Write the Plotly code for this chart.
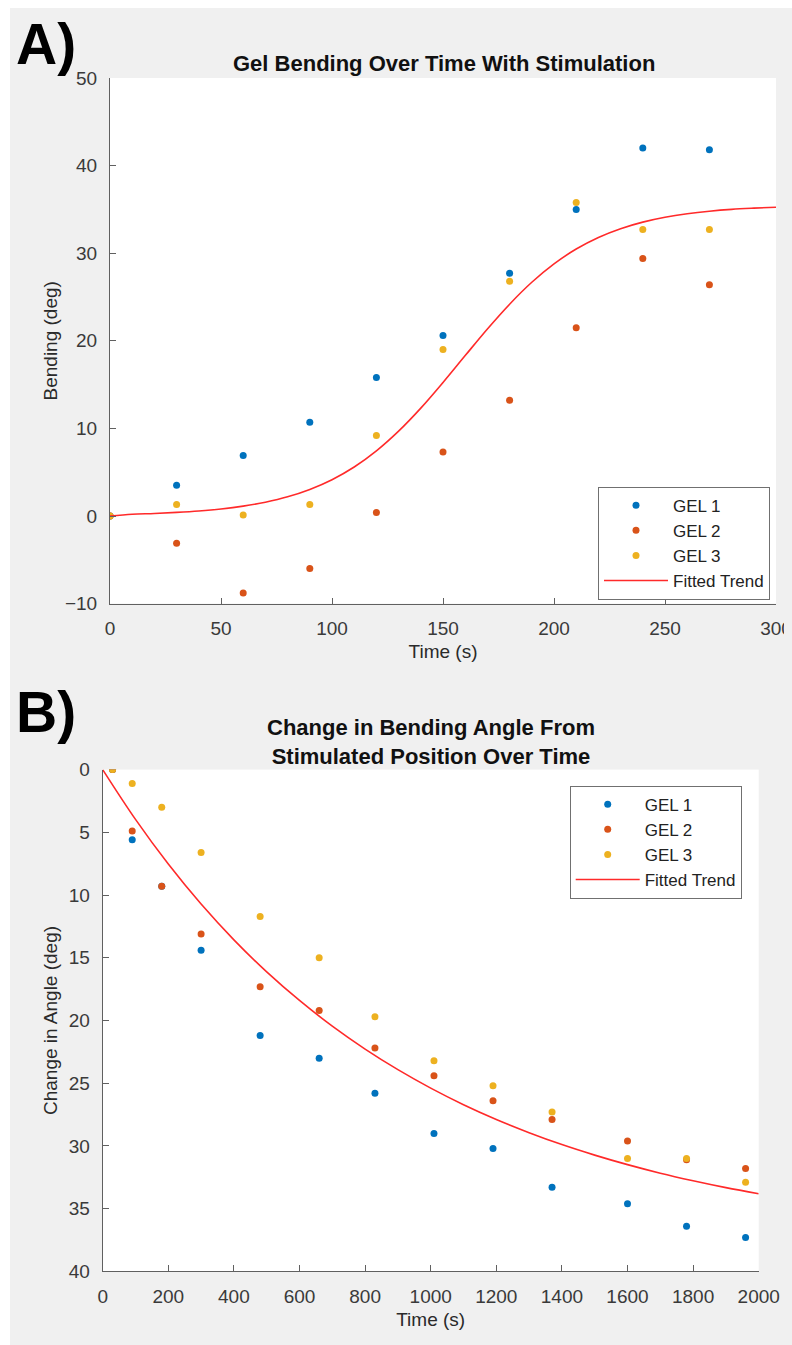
import plotly.graph_objects as go

# ---------------- Data: panel A ----------------
time_a = [0, 30, 60, 90, 120, 150, 180, 210, 240, 270]
gel1_a = [0, 3.5, 6.9, 10.7, 15.8, 20.6, 27.7, 35.0, 42.0, 41.8]
gel2_a = [0, -3.1, -8.8, -6.0, 0.4, 7.3, 13.2, 21.5, 29.4, 26.4]
gel3_a = [0, 1.3, 0.1, 1.3, 9.2, 19.0, 26.8, 35.8, 32.7, 32.7]
fit_time_a = [0, 10, 20, 30, 40, 50, 60, 70, 80, 90, 100, 110, 120, 130, 140, 150,
              160, 170, 180, 190, 200, 210, 220, 230, 240, 250, 260, 270, 280, 290, 300]
fit_a = [0.0, 0.2, 0.29, 0.41, 0.57, 0.8, 1.13, 1.58, 2.19, 3.03, 4.14, 5.59, 7.43, 9.68,
         12.31, 15.24, 18.31, 21.35, 24.18, 26.68, 28.78, 30.48, 31.8, 32.8, 33.55, 34.1,
         34.5, 34.79, 35.0, 35.14, 35.25]

# ---------------- Data: panel B ----------------
time_b = [30, 90, 180, 300, 480, 660, 830, 1010, 1190, 1370, 1600, 1780, 1960]
gel1_b = [0, 5.6, 9.3, 14.4, 21.2, 23.0, 25.8, 29.0, 30.2, 33.3, 34.6, 36.4, 37.3]
gel2_b = [0, 4.9, 9.3, 13.1, 17.3, 19.2, 22.2, 24.4, 26.4, 27.9, 29.6, 31.1, 31.8]
gel3_b = [0, 1.1, 3.0, 6.6, 11.7, 15.0, 19.7, 23.2, 25.2, 27.3, 31.0, 31.0, 32.9]
fit_time_b = [0, 100, 200, 300, 400, 500, 600, 700, 800, 900, 1000, 1100, 1200, 1300,
              1400, 1500, 1600, 1700, 1800, 1900, 2000]
fit_b = [0.0, 3.97, 7.53, 10.72, 13.57, 16.12, 18.4, 20.45, 22.28, 23.92, 25.39, 26.71,
         27.89, 28.94, 29.89, 30.73, 31.49, 32.17, 32.77, 33.32, 33.81]

series_names = ["GEL 1", "GEL 2", "GEL 3"]
colors = ["#0072BD", "#D95319", "#EDB120"]
fit_color = "#FF2A2A"

# page is 792x1345; browser body margin is 8px, so the figure is 776x1329
PAGE_MARGIN = 8
W, H = 792 - 2 * PAGE_MARGIN, 1345 - 2 * PAGE_MARGIN
FONT = "Liberation Sans, Arial, Helvetica, sans-serif"


def px_x(p):
    return (p - PAGE_MARGIN) / W


def px_y(p):
    return 1 - (p - PAGE_MARGIN) / H


fig = go.Figure()

for name, vals, col in zip(series_names, [gel1_a, gel2_a, gel3_a], colors):
    fig.add_trace(go.Scatter(x=time_a, y=vals, mode="markers", name=name,
                             marker=dict(color=col, size=7), xaxis="x", yaxis="y",
                             legend="legend"))
fig.add_trace(go.Scatter(x=fit_time_a, y=fit_a, mode="lines", name="Fitted Trend",
                         line=dict(color=fit_color, width=1.6, shape="spline"),
                         xaxis="x", yaxis="y", legend="legend"))

for name, vals, col in zip(series_names, [gel1_b, gel2_b, gel3_b], colors):
    fig.add_trace(go.Scatter(x=time_b, y=vals, mode="markers", name=name,
                             marker=dict(color=col, size=7), xaxis="x2", yaxis="y2",
                             legend="legend2"))
fig.add_trace(go.Scatter(x=fit_time_b, y=fit_b, mode="lines", name="Fitted Trend",
                         line=dict(color=fit_color, width=1.6, shape="spline"),
                         xaxis="x2", yaxis="y2", legend="legend2"))

axis_style = dict(showline=True, linecolor="#606060", linewidth=1, mirror=False,
                  ticks="inside", ticklen=6, tickcolor="#606060", tickwidth=1,
                  showgrid=False, zeroline=False, automargin=False,
                  ticklabeloverflow="allow",
                  tickfont=dict(family=FONT, size=19, color="#3a3a3a"))
title_font = dict(family=FONT, size=19, color="#2a2a2a")
legend_style = dict(bgcolor="white", bordercolor="#707070", borderwidth=1, itemwidth=64,
                    font=dict(family=FONT, size=17, color="#222222"))

fig.update_layout(
    width=W, height=H,
    autosize=False,
    margin=dict(l=0, r=0, t=0, b=0, autoexpand=False),
    paper_bgcolor="#f0f0f0",
    plot_bgcolor="white",
    font=dict(family=FONT),
    xaxis=dict(domain=[px_x(110), px_x(776)], range=[0, 300],
               tickvals=[0, 50, 100, 150, 200, 250, 300], anchor="y",
               ticklabelstandoff=8,
               title=dict(text="Time (s)", font=title_font, standoff=6), **axis_style),
    yaxis=dict(domain=[px_y(603.6), px_y(78)], range=[-10, 50],
               tickvals=[-10, 0, 10, 20, 30, 40, 50], anchor="x",
               ticklabelstandoff=8,
               title=dict(text="Bending (deg)", font=title_font, standoff=2), **axis_style),
    xaxis2=dict(domain=[px_x(102.7), px_x(758.7)], range=[0, 2000],
                tickvals=list(range(0, 2001, 200)), anchor="y2",
                ticklabelstandoff=8,
                title=dict(text="Time (s)", font=title_font, standoff=6), **axis_style),
    yaxis2=dict(domain=[px_y(1271.4), px_y(769.6)], range=[40, 0],
                tickvals=list(range(0, 41, 5)), anchor="x2",
                ticklabelstandoff=8,
                title=dict(text="Change in Angle (deg)", font=title_font, standoff=6),
                **axis_style),
    legend=dict(x=px_x(770), xanchor="right", y=px_y(486.7), yanchor="top", **legend_style),
    legend2=dict(x=px_x(741.7), xanchor="right", y=px_y(785.7), yanchor="top",
                 **legend_style),
    shapes=[
        dict(type="rect", xref="paper", yref="paper", x0=0, x1=px_x(10), y0=0, y1=1,
             fillcolor="white", line=dict(width=0), layer="below"),
    ],
    annotations=[
        dict(text="<b>A)</b>", x=px_x(14), y=px_y(44), xref="paper", yref="paper",
             xanchor="left", yanchor="middle", showarrow=False,
             font=dict(family=FONT, size=57, color="black")),
        dict(text="<b>B)</b>", x=px_x(14), y=px_y(712), xref="paper", yref="paper",
             xanchor="left", yanchor="middle", showarrow=False,
             font=dict(family=FONT, size=57, color="black")),
        dict(text="<b>Gel Bending Over Time With Stimulation</b>", x=px_x(443.5),
             y=px_y(63), xref="paper", yref="paper", xanchor="center", yanchor="middle",
             showarrow=False, font=dict(family=FONT, size=22, color="#111111")),
        dict(text="<b>Change in Bending Angle From<br>Stimulated Position Over Time</b>",
             x=px_x(430.7), y=px_y(742), xref="paper", yref="paper", xanchor="center",
             yanchor="middle", showarrow=False,
             font=dict(family=FONT, size=22, color="#111111")),
    ],
)

page_js = ("document.documentElement.style.background="
           "'linear-gradient(to right, #ffffff 10px, rgba(0,0,0,0) 10px), "
           "linear-gradient(to bottom, #ffffff 8px, #f0f0f0 8px)';"
           "document.documentElement.style.minHeight='100%';"
           "document.querySelectorAll('svg.main-svg').forEach(function(s){"
           "s.style.overflow='visible';});")

fig.write_html("out.html", config={"displayModeBar": False, "responsive": False},
               post_script=page_js)
